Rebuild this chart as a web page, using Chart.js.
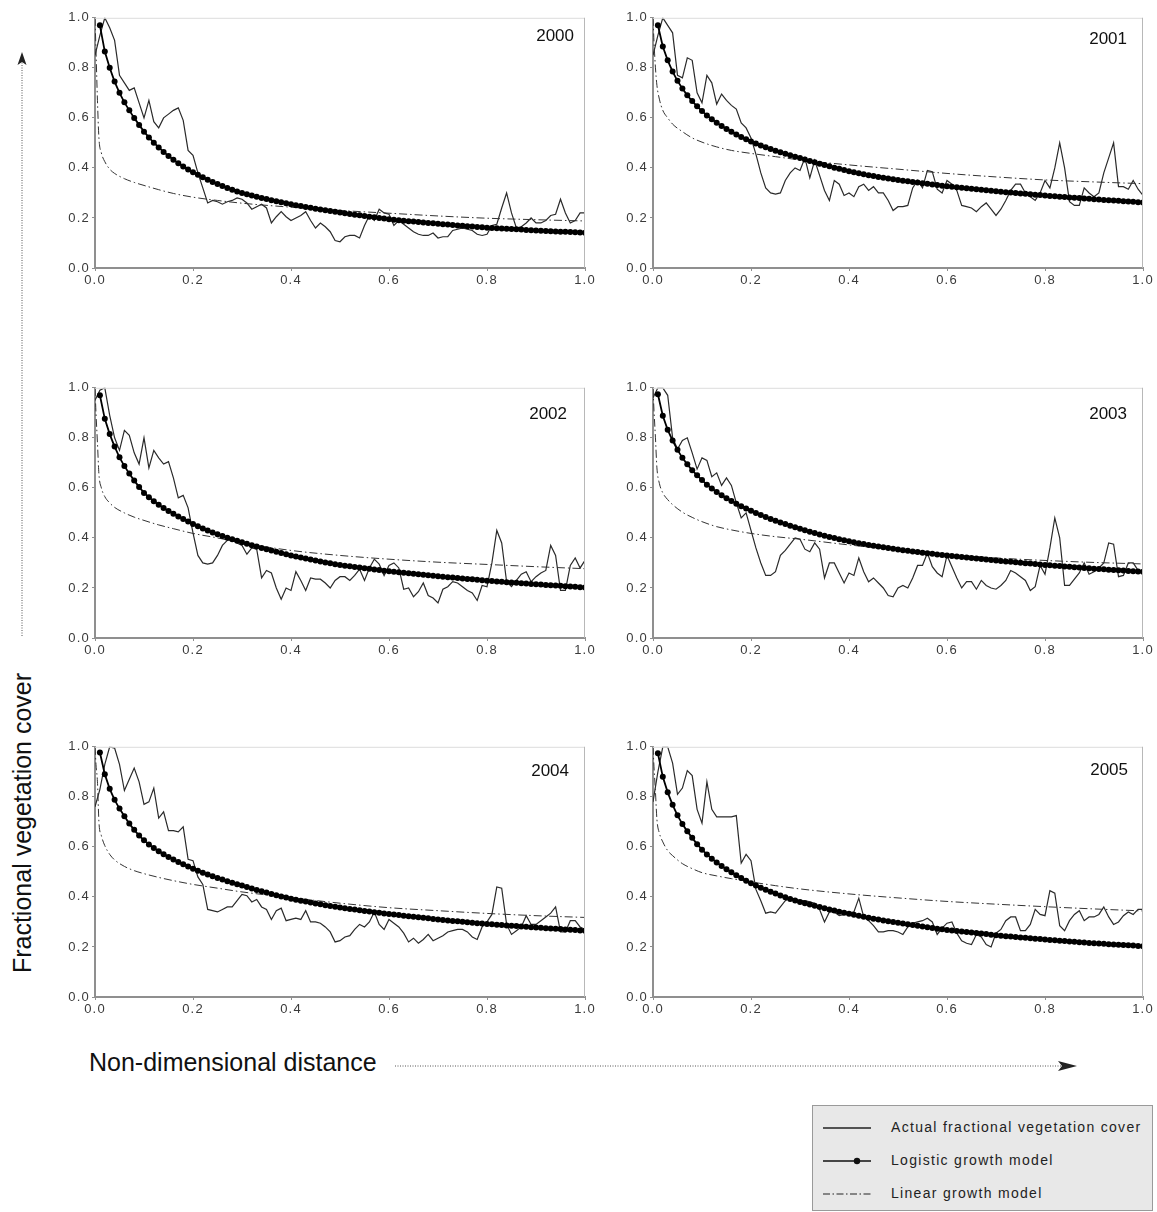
<!DOCTYPE html>
<html lang="en">
<head>
<meta charset="UTF-8">
<title>Fractional vegetation cover</title>
<script src="https://cdn.jsdelivr.net/npm/chart.js"></script>
<style>
  body { margin: 0; background: #fff; width: 1157px; height: 1212px; overflow: hidden; position: relative;
         font-family: "Liberation Sans", Arial, sans-serif; color: #111; }
  .panel { position: absolute; width: 542px; height: 285px; }
  .panel canvas { display: block; }
  #deco { position: absolute; left: 0; top: 0; }
  .ylab { position: absolute; left: 22px; top: 823px; transform: translate(-50%, -50%) rotate(-90deg);
          font-size: 25px; white-space: nowrap; }
  .xlab { position: absolute; left: 89px; top: 1048px; font-size: 25px; white-space: nowrap; }
  .legend { position: absolute; left: 812px; top: 1105px; width: 341px; height: 106px; box-sizing: border-box;
            background: #e8e8e8; border: 1px solid #9a9a9a; }
  .legend svg { position: absolute; left: 8px; top: 0; }
  .legend span { position: absolute; left: 78px; font-size: 14px; letter-spacing: 1.3px; color: #222; white-space: nowrap; }
</style>
</head>
<body>
<svg id="deco" width="1157" height="1212">
  <line x1="22" y1="636" x2="22" y2="62" stroke="#555" stroke-width="1" stroke-dasharray="1,1.5"/>
  <polygon points="22,52 17.5,65 22,62 26.5,65" fill="#222"/>
  <line x1="395" y1="1066" x2="1062" y2="1066" stroke="#555" stroke-width="1" stroke-dasharray="1,1.5"/>
  <polygon points="1077,1066 1058,1061 1062,1066 1058,1071" fill="#222"/>
</svg>
<div class="ylab">Fractional vegetation cover</div>
<div class="xlab">Non-dimensional distance</div>
<div class="legend">
  <svg width="70" height="104">
    <line x1="2" y1="22" x2="50" y2="22" stroke="#222" stroke-width="1.3"/>
    <line x1="2" y1="55" x2="50" y2="55" stroke="#111" stroke-width="1.6"/>
    <circle cx="36" cy="55" r="3.2" fill="#111"/>
    <line x1="2" y1="88" x2="50" y2="88" stroke="#222" stroke-width="1" stroke-dasharray="7,2.5,1.5,2.5"/>
  </svg>
  <span style="top:13px">Actual fractional vegetation cover</span>
  <span style="top:46px">Logistic growth model</span>
  <span style="top:79px">Linear growth model</span>
</div>

<div class="panel" id="p0" style="left:55px; top:8px"><canvas width="542" height="285"></canvas></div>
<div class="panel" id="p1" style="left:613px; top:8px"><canvas width="542" height="285"></canvas></div>
<div class="panel" id="p2" style="left:55px; top:378px"><canvas width="542" height="285"></canvas></div>
<div class="panel" id="p3" style="left:613px; top:378px"><canvas width="542" height="285"></canvas></div>
<div class="panel" id="p4" style="left:55px; top:737px"><canvas width="542" height="285"></canvas></div>
<div class="panel" id="p5" style="left:613px; top:737px"><canvas width="542" height="285"></canvas></div>

<script>
  const years = ['2000', '2001', '2002', '2003', '2004', '2005'];

  // sample positions along the transect (non-dimensional distance)
  const distance = [
    0, 0.01, 0.02, 0.03, 0.04, 0.05, 0.06, 0.07, 0.08, 0.09,
    0.1, 0.11, 0.12, 0.13, 0.14, 0.15, 0.16, 0.17, 0.18, 0.19,
    0.2, 0.21, 0.22, 0.23, 0.24, 0.25, 0.26, 0.27, 0.28, 0.29,
    0.3, 0.31, 0.32, 0.33, 0.34, 0.35, 0.36, 0.37, 0.38, 0.39,
    0.4, 0.41, 0.42, 0.43, 0.44, 0.45, 0.46, 0.47, 0.48, 0.49,
    0.5, 0.51, 0.52, 0.53, 0.54, 0.55, 0.56, 0.57, 0.58, 0.59,
    0.6, 0.61, 0.62, 0.63, 0.64, 0.65, 0.66, 0.67, 0.68, 0.69,
    0.7, 0.71, 0.72, 0.73, 0.74, 0.75, 0.76, 0.77, 0.78, 0.79,
    0.8, 0.81, 0.82, 0.83, 0.84, 0.85, 0.86, 0.87, 0.88, 0.89,
    0.9, 0.91, 0.92, 0.93, 0.94, 0.95, 0.96, 0.97, 0.98, 0.99,
    1
  ];
  // x positions of the linear model curve
  const linearX = [0, 0.002, 0.005, 0.008, 0.013, 0.02, 0.03, 0.04, 0.06, 0.08, 0.1, 0.13, 0.16,
                   0.2, 0.25, 0.3, 0.4, 0.5, 0.6, 0.7, 0.8, 0.9, 1];
  const yTicks = [0, 0.2, 0.4, 0.6, 0.8, 1.0];

  // actual fractional vegetation cover, one value per distance
  const actual2000 = [
    0.85, 0.93, 1.0, 0.96, 0.91, 0.77, 0.74, 0.71, 0.72, 0.66,
    0.60, 0.67, 0.585, 0.56, 0.60, 0.615, 0.63, 0.64, 0.59, 0.47,
    0.45, 0.38, 0.32, 0.26, 0.27, 0.265, 0.255, 0.265, 0.27, 0.28,
    0.275, 0.26, 0.235, 0.245, 0.255, 0.24, 0.18, 0.205, 0.225, 0.205,
    0.19, 0.20, 0.21, 0.225, 0.19, 0.16, 0.18, 0.165, 0.145, 0.11,
    0.105, 0.125, 0.13, 0.13, 0.12, 0.17, 0.21, 0.19, 0.235, 0.22,
    0.215, 0.17, 0.19, 0.175, 0.16, 0.145, 0.135, 0.13, 0.13, 0.14,
    0.12, 0.125, 0.125, 0.15, 0.155, 0.16, 0.155, 0.15, 0.135, 0.13,
    0.135, 0.17, 0.175, 0.24, 0.30, 0.22, 0.16, 0.165, 0.18, 0.20,
    0.18, 0.18, 0.19, 0.21, 0.215, 0.275, 0.22, 0.18, 0.19, 0.22,
    0.22
  ];
  const actual2001 = [
    0.85, 0.93, 1.0, 0.97, 0.94, 0.77, 0.76, 0.84, 0.83, 0.70,
    0.66, 0.77, 0.74, 0.655, 0.695, 0.67, 0.65, 0.635, 0.58, 0.56,
    0.52, 0.455, 0.38, 0.32, 0.30, 0.295, 0.30, 0.35, 0.38, 0.40,
    0.39, 0.44, 0.36, 0.43, 0.37, 0.31, 0.27, 0.35, 0.335, 0.29,
    0.30, 0.285, 0.325, 0.335, 0.31, 0.325, 0.30, 0.30, 0.27, 0.23,
    0.245, 0.245, 0.25, 0.32, 0.35, 0.32, 0.39, 0.385, 0.315, 0.30,
    0.35, 0.335, 0.31, 0.25, 0.245, 0.24, 0.225, 0.245, 0.26, 0.235,
    0.21, 0.235, 0.27, 0.31, 0.335, 0.335, 0.30, 0.285, 0.27, 0.30,
    0.35, 0.32, 0.40, 0.50, 0.40, 0.265, 0.25, 0.25, 0.32, 0.30,
    0.285, 0.30, 0.38, 0.44, 0.50, 0.325, 0.325, 0.315, 0.35, 0.315,
    0.29
  ];
  const actual2002 = [
    0.95, 0.99, 1.0, 0.89, 0.80, 0.75, 0.83, 0.81, 0.74, 0.695,
    0.80, 0.68, 0.75, 0.72, 0.695, 0.705, 0.64, 0.56, 0.57, 0.52,
    0.42, 0.33, 0.30, 0.295, 0.30, 0.33, 0.37, 0.39, 0.40, 0.38,
    0.37, 0.335, 0.36, 0.355, 0.24, 0.27, 0.26, 0.20, 0.155, 0.20,
    0.19, 0.265, 0.23, 0.19, 0.24, 0.235, 0.235, 0.22, 0.20, 0.23,
    0.245, 0.245, 0.23, 0.25, 0.275, 0.23, 0.28, 0.315, 0.295, 0.25,
    0.29, 0.30, 0.28, 0.195, 0.20, 0.165, 0.185, 0.22, 0.17, 0.16,
    0.14, 0.195, 0.205, 0.225, 0.22, 0.205, 0.19, 0.18, 0.15, 0.21,
    0.205, 0.30, 0.43, 0.38, 0.225, 0.205, 0.23, 0.255, 0.265, 0.225,
    0.245, 0.26, 0.27, 0.37, 0.33, 0.19, 0.19, 0.29, 0.32, 0.28,
    0.31
  ];
  const actual2003 = [
    0.96, 1.0, 1.0, 0.97, 0.80, 0.755, 0.79, 0.80, 0.74, 0.675,
    0.72, 0.71, 0.645, 0.66, 0.61, 0.64, 0.61, 0.54, 0.48, 0.50,
    0.43, 0.36, 0.30, 0.25, 0.25, 0.265, 0.33, 0.35, 0.375, 0.40,
    0.395, 0.355, 0.345, 0.38, 0.355, 0.24, 0.30, 0.30, 0.26, 0.22,
    0.26, 0.25, 0.32, 0.265, 0.225, 0.24, 0.22, 0.20, 0.17, 0.165,
    0.20, 0.21, 0.20, 0.24, 0.29, 0.29, 0.34, 0.285, 0.26, 0.245,
    0.33, 0.285, 0.24, 0.20, 0.225, 0.225, 0.195, 0.23, 0.21, 0.20,
    0.195, 0.21, 0.23, 0.27, 0.26, 0.245, 0.23, 0.19, 0.205, 0.29,
    0.255, 0.36, 0.48, 0.40, 0.21, 0.21, 0.235, 0.26, 0.30, 0.255,
    0.265, 0.28, 0.30, 0.38, 0.375, 0.245, 0.25, 0.30, 0.30, 0.27,
    0.265
  ];
  const actual2004 = [
    0.76, 0.83, 0.93, 1.0, 0.995, 0.93, 0.825, 0.87, 0.915, 0.86,
    0.77, 0.78, 0.835, 0.715, 0.74, 0.665, 0.665, 0.66, 0.68, 0.55,
    0.545, 0.48, 0.45, 0.35, 0.345, 0.34, 0.35, 0.36, 0.36, 0.385,
    0.41, 0.405, 0.38, 0.39, 0.36, 0.35, 0.31, 0.345, 0.355, 0.305,
    0.31, 0.315, 0.31, 0.345, 0.30, 0.30, 0.295, 0.28, 0.26, 0.22,
    0.225, 0.24, 0.245, 0.27, 0.29, 0.28, 0.30, 0.34, 0.29, 0.27,
    0.31, 0.295, 0.28, 0.255, 0.22, 0.235, 0.215, 0.23, 0.25, 0.225,
    0.235, 0.245, 0.26, 0.265, 0.27, 0.27, 0.26, 0.24, 0.23, 0.28,
    0.30, 0.33, 0.44, 0.435, 0.29, 0.25, 0.265, 0.28, 0.325, 0.29,
    0.29, 0.305, 0.32, 0.335, 0.36, 0.26, 0.26, 0.305, 0.305, 0.28,
    0.27
  ];
  const actual2005 = [
    0.78, 0.90, 1.0, 1.0, 0.935, 0.81, 0.835, 0.905, 0.885, 0.75,
    0.695, 0.86, 0.75, 0.72, 0.72, 0.72, 0.72, 0.725, 0.535, 0.57,
    0.545, 0.43, 0.385, 0.335, 0.34, 0.335, 0.36, 0.385, 0.395, 0.39,
    0.385, 0.385, 0.38, 0.375, 0.35, 0.30, 0.34, 0.34, 0.325, 0.33,
    0.335, 0.34, 0.395, 0.32, 0.305, 0.285, 0.26, 0.26, 0.265, 0.265,
    0.26, 0.25, 0.28, 0.295, 0.30, 0.305, 0.315, 0.30, 0.25, 0.275,
    0.295, 0.30, 0.255, 0.225, 0.215, 0.21, 0.25, 0.24, 0.21, 0.20,
    0.255, 0.27, 0.305, 0.32, 0.32, 0.265, 0.265, 0.29, 0.35, 0.33,
    0.325, 0.425, 0.415, 0.285, 0.265, 0.305, 0.33, 0.345, 0.305, 0.32,
    0.32, 0.33, 0.36, 0.32, 0.29, 0.30, 0.325, 0.34, 0.33, 0.35,
    0.35
  ];

  // logistic growth model, distance 0.01 .. 1.00
  const logistic2000 = [
    0.97, 0.865, 0.80, 0.745, 0.70, 0.662, 0.63, 0.60, 0.572, 0.545,
    0.522, 0.501, 0.482, 0.464, 0.448, 0.433, 0.419, 0.406, 0.394, 0.383,
    0.373, 0.363, 0.353, 0.344, 0.336, 0.328, 0.320, 0.313, 0.306, 0.300,
    0.295, 0.290, 0.285, 0.280, 0.276, 0.271, 0.267, 0.263, 0.259, 0.255,
    0.251, 0.248, 0.244, 0.241, 0.237, 0.234, 0.231, 0.228, 0.225, 0.222,
    0.219, 0.216, 0.213, 0.211, 0.208, 0.205, 0.203, 0.200, 0.198, 0.195,
    0.193, 0.191, 0.189, 0.187, 0.186, 0.184, 0.182, 0.180, 0.179, 0.177,
    0.175, 0.174, 0.172, 0.170, 0.169, 0.167, 0.166, 0.164, 0.163, 0.161,
    0.160, 0.159, 0.158, 0.157, 0.156, 0.155, 0.154, 0.152, 0.151, 0.150,
    0.149, 0.148, 0.147, 0.146, 0.145, 0.145, 0.144, 0.143, 0.142, 0.141
  ];
  const logistic2001 = [
    0.97, 0.885, 0.83, 0.785, 0.748, 0.717, 0.69, 0.667, 0.646, 0.627,
    0.610, 0.595, 0.581, 0.568, 0.556, 0.545, 0.534, 0.524, 0.515, 0.506,
    0.498, 0.490, 0.483, 0.476, 0.469, 0.463, 0.457, 0.451, 0.445, 0.440,
    0.434, 0.428, 0.423, 0.417, 0.412, 0.407, 0.401, 0.397, 0.392, 0.387,
    0.383, 0.379, 0.375, 0.371, 0.368, 0.364, 0.361, 0.358, 0.355, 0.352,
    0.349, 0.347, 0.344, 0.342, 0.339, 0.337, 0.334, 0.332, 0.329, 0.327,
    0.325, 0.323, 0.321, 0.319, 0.317, 0.315, 0.313, 0.311, 0.309, 0.307,
    0.305, 0.303, 0.302, 0.300, 0.298, 0.297, 0.295, 0.293, 0.292, 0.290,
    0.288, 0.287, 0.285, 0.284, 0.282, 0.281, 0.280, 0.278, 0.277, 0.275,
    0.274, 0.272, 0.271, 0.270, 0.269, 0.267, 0.266, 0.265, 0.263, 0.262
  ];
  const logistic2002 = [
    0.97, 0.876, 0.815, 0.765, 0.722, 0.687, 0.657, 0.629, 0.604, 0.58,
    0.563, 0.547, 0.533, 0.520, 0.508, 0.497, 0.486, 0.476, 0.466, 0.456,
    0.447, 0.438, 0.430, 0.422, 0.415, 0.408, 0.401, 0.395, 0.389, 0.383,
    0.377, 0.371, 0.366, 0.360, 0.355, 0.350, 0.345, 0.340, 0.335, 0.330,
    0.326, 0.322, 0.318, 0.314, 0.310, 0.306, 0.302, 0.299, 0.295, 0.292,
    0.289, 0.287, 0.284, 0.282, 0.279, 0.277, 0.274, 0.272, 0.269, 0.267,
    0.265, 0.263, 0.261, 0.259, 0.257, 0.255, 0.253, 0.251, 0.249, 0.247,
    0.245, 0.243, 0.242, 0.240, 0.238, 0.236, 0.235, 0.233, 0.231, 0.229,
    0.228, 0.226, 0.225, 0.223, 0.222, 0.221, 0.219, 0.218, 0.216, 0.215,
    0.214, 0.212, 0.211, 0.210, 0.209, 0.207, 0.206, 0.205, 0.203, 0.202
  ];
  const logistic2003 = [
    0.974, 0.888, 0.832, 0.789, 0.752, 0.72, 0.694, 0.67, 0.65, 0.631,
    0.613, 0.598, 0.584, 0.571, 0.559, 0.548, 0.537, 0.527, 0.518, 0.509,
    0.500, 0.492, 0.484, 0.476, 0.469, 0.462, 0.456, 0.449, 0.443, 0.437,
    0.431, 0.425, 0.420, 0.414, 0.409, 0.404, 0.400, 0.395, 0.391, 0.387,
    0.383, 0.379, 0.376, 0.372, 0.369, 0.366, 0.363, 0.360, 0.357, 0.354,
    0.351, 0.349, 0.346, 0.344, 0.341, 0.339, 0.337, 0.334, 0.332, 0.330,
    0.328, 0.326, 0.324, 0.322, 0.320, 0.318, 0.316, 0.314, 0.312, 0.310,
    0.308, 0.306, 0.305, 0.303, 0.301, 0.299, 0.298, 0.296, 0.294, 0.292,
    0.291, 0.289, 0.288, 0.286, 0.285, 0.283, 0.282, 0.280, 0.279, 0.277,
    0.276, 0.275, 0.273, 0.272, 0.271, 0.270, 0.268, 0.267, 0.266, 0.265
  ];
  const logistic2004 = [
    0.977, 0.89, 0.832, 0.788, 0.753, 0.722, 0.693, 0.668, 0.645, 0.626,
    0.610, 0.596, 0.583, 0.571, 0.560, 0.550, 0.540, 0.531, 0.522, 0.513,
    0.505, 0.497, 0.490, 0.483, 0.476, 0.470, 0.463, 0.457, 0.451, 0.446,
    0.440, 0.434, 0.428, 0.423, 0.418, 0.412, 0.407, 0.402, 0.398, 0.393,
    0.389, 0.385, 0.382, 0.378, 0.374, 0.371, 0.367, 0.364, 0.361, 0.358,
    0.355, 0.352, 0.350, 0.347, 0.344, 0.342, 0.339, 0.337, 0.334, 0.332,
    0.330, 0.328, 0.325, 0.323, 0.321, 0.319, 0.317, 0.315, 0.312, 0.310,
    0.308, 0.306, 0.304, 0.303, 0.301, 0.299, 0.297, 0.295, 0.294, 0.292,
    0.291, 0.289, 0.288, 0.286, 0.285, 0.284, 0.282, 0.281, 0.279, 0.278,
    0.277, 0.275, 0.274, 0.273, 0.272, 0.270, 0.269, 0.268, 0.266, 0.265
  ];
  const logistic2005 = [
    0.974, 0.88, 0.818, 0.768, 0.726, 0.691, 0.662, 0.636, 0.611, 0.589,
    0.570, 0.553, 0.538, 0.524, 0.511, 0.499, 0.487, 0.476, 0.465, 0.455,
    0.446, 0.437, 0.429, 0.421, 0.414, 0.406, 0.399, 0.392, 0.386, 0.380,
    0.375, 0.370, 0.365, 0.360, 0.355, 0.350, 0.346, 0.341, 0.337, 0.333,
    0.329, 0.325, 0.321, 0.317, 0.313, 0.310, 0.306, 0.303, 0.300, 0.297,
    0.294, 0.291, 0.288, 0.285, 0.282, 0.279, 0.276, 0.273, 0.271, 0.268,
    0.266, 0.264, 0.262, 0.260, 0.258, 0.256, 0.254, 0.252, 0.249, 0.247,
    0.245, 0.243, 0.242, 0.240, 0.238, 0.237, 0.235, 0.233, 0.232, 0.230,
    0.228, 0.227, 0.225, 0.224, 0.222, 0.221, 0.219, 0.218, 0.216, 0.215,
    0.214, 0.213, 0.211, 0.210, 0.209, 0.208, 0.207, 0.206, 0.204, 0.203
  ];

  // linear growth model, at linearX
  const linear2000 = [1.0, 0.87, 0.67, 0.52, 0.46, 0.425, 0.395, 0.378, 0.357, 0.342, 0.33, 0.313,
                      0.298, 0.283, 0.27, 0.259, 0.243, 0.23, 0.219, 0.208, 0.199, 0.193, 0.188];
  const linear2001 = [1.0, 0.905, 0.80, 0.73, 0.675, 0.63, 0.60, 0.575, 0.545, 0.52, 0.503, 0.484,
                      0.47, 0.458, 0.445, 0.432, 0.412, 0.395, 0.378, 0.364, 0.352, 0.344, 0.337];
  const linear2002 = [1.0, 0.90, 0.78, 0.655, 0.60, 0.565, 0.54, 0.522, 0.50, 0.483, 0.47, 0.452,
                      0.437, 0.418, 0.40, 0.38, 0.35, 0.33, 0.315, 0.303, 0.294, 0.285, 0.277];
  const linear2003 = [1.0, 0.91, 0.80, 0.68, 0.618, 0.58, 0.553, 0.533, 0.503, 0.482, 0.465, 0.445,
                      0.432, 0.418, 0.405, 0.395, 0.372, 0.352, 0.334, 0.32, 0.31, 0.302, 0.296];
  const linear2004 = [1.0, 0.93, 0.86, 0.70, 0.645, 0.605, 0.57, 0.548, 0.522, 0.505, 0.493, 0.478,
                      0.465, 0.45, 0.435, 0.42, 0.397, 0.375, 0.357, 0.345, 0.334, 0.325, 0.318];
  const linear2005 = [1.0, 0.92, 0.82, 0.71, 0.655, 0.62, 0.585, 0.565, 0.533, 0.513, 0.497, 0.484,
                      0.473, 0.46, 0.445, 0.432, 0.412, 0.396, 0.382, 0.371, 0.361, 0.352, 0.344];

  const actualSeries = [actual2000, actual2001, actual2002, actual2003, actual2004, actual2005];
  const logisticSeries = [logistic2000, logistic2001, logistic2002, logistic2003, logistic2004, logistic2005];
  const linearSeries = [linear2000, linear2001, linear2002, linear2003, linear2004, linear2005];

  // where the year sits inside each plot (px from right edge, baseline px from top)
  const yearPos = [[11, 23], [16, 26], [18, 31], [16, 31], [16, 29], [15, 28]];

  const FONT = '"Liberation Sans", Arial, sans-serif';
  const AXIS = '#8f8f8f';

  // the tick labels in the figure are slightly spaced out
  const tickSpacing = {
    id: 'tickSpacing',
    beforeDraw(chart) { chart.ctx.letterSpacing = '1.2px'; }
  };

  // top/right frame lines and the year caption
  const panelDeco = {
    id: 'panelDeco',
    afterDraw(chart, args, opts) {
      const { ctx, chartArea: a } = chart;
      ctx.save();
      ctx.letterSpacing = '0px';
      ctx.lineWidth = 1;
      ctx.strokeStyle = '#dcdcdc';
      ctx.beginPath();
      ctx.moveTo(a.left, a.top + 0.5);
      ctx.lineTo(a.right, a.top + 0.5);
      ctx.stroke();
      ctx.strokeStyle = '#b8b8b8';
      ctx.beginPath();
      ctx.moveTo(a.right - 0.5, a.top);
      ctx.lineTo(a.right - 0.5, a.bottom);
      ctx.stroke();
      ctx.fillStyle = '#111';
      ctx.font = '17px ' + FONT;
      ctx.textAlign = 'right';
      ctx.textBaseline = 'alphabetic';
      ctx.fillText(opts.year, a.right - opts.dx, a.top + opts.dy);
      ctx.restore();
    }
  };

  years.forEach((year, p) => {
    const actual = actualSeries[p];
    const logistic = logisticSeries[p];
    const linear = linearSeries[p];
    const canvas = document.querySelector('#p' + p + ' canvas');

    new Chart(canvas, {
      type: 'line',
      data: {
        datasets: [
          {
            label: 'Logistic growth model',
            data: logistic.map((v, i) => ({ x: distance[i + 1], y: v })),
            borderColor: '#000',
            backgroundColor: '#000',
            borderWidth: 1.8,
            pointRadius: 3,
            pointBorderWidth: 0,
            tension: 0
          },
          {
            label: 'Linear growth model',
            data: linear.map((v, i) => ({ x: linearX[i], y: v })),
            borderColor: '#333',
            borderWidth: 1,
            borderDash: [8, 3, 1.5, 3],
            pointRadius: 0,
            cubicInterpolationMode: 'monotone'
          },
          {
            label: 'Actual fractional vegetation cover',
            data: actual.map((v, i) => ({ x: distance[i], y: v })),
            borderColor: '#2a2a2a',
            borderWidth: 1.2,
            pointRadius: 0,
            tension: 0
          }
        ]
      },
      options: {
        responsive: false,
        animation: false,
        events: [],
        layout: { padding: { left: 0, top: 8, right: 12, bottom: 0 } },
        plugins: {
          legend: { display: false },
          tooltip: { enabled: false },
          panelDeco: { year: year, dx: yearPos[p][0], dy: yearPos[p][1] }
        },
        scales: {
          x: {
            type: 'linear',
            min: 0,
            max: 1,
            afterFit(scale) { scale.height = 25; },
            border: { display: true, color: AXIS, width: 2 },
            grid: { drawOnChartArea: false, tickLength: 3, color: AXIS },
            ticks: {
              stepSize: 0.2,
              padding: 2,
              color: '#3a3a3a',
              font: { family: FONT, size: 13 },
              callback: v => v.toFixed(1)
            }
          },
          y: {
            min: 0,
            max: 1,
            afterFit(scale) { scale.width = 40; },
            afterBuildTicks(scale) { scale.ticks = yTicks.map(v => ({ value: v })); },
            border: { display: true, color: AXIS, width: 2 },
            grid: { drawOnChartArea: false, tickLength: 3, color: AXIS },
            ticks: {
              padding: 2,
              color: '#3a3a3a',
              font: { family: FONT, size: 13 },
              callback: v => v.toFixed(1)
            }
          }
        }
      },
      plugins: [tickSpacing, panelDeco]
    });
  });
</script>
</body>
</html>
